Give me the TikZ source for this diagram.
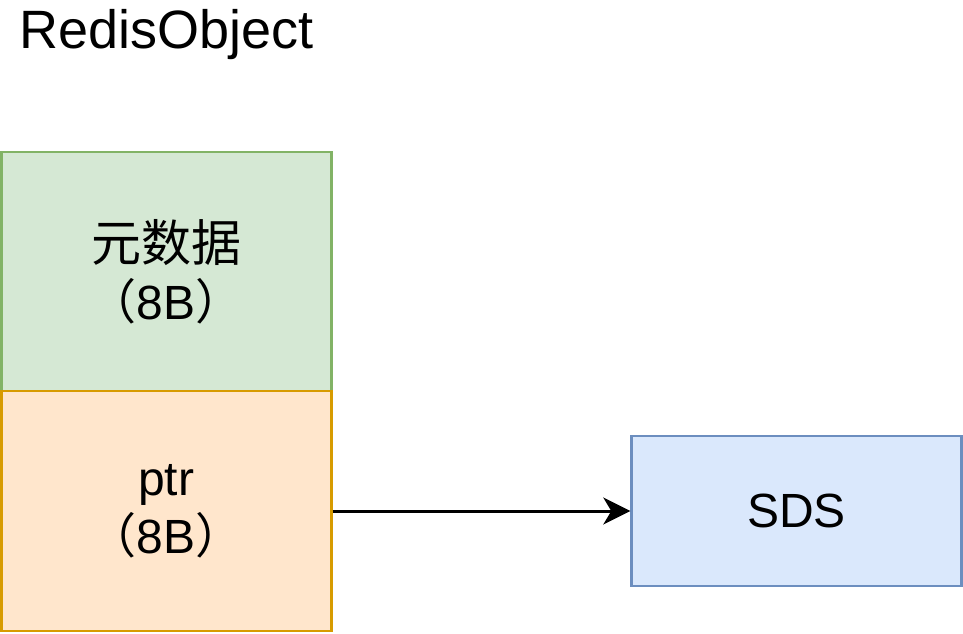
\documentclass[tikz,border=0pt]{standalone}
\usepackage{fontspec}
\setmainfont{Liberation Sans}
\newfontfamily\cjk{Noto Sans CJK SC}
\usetikzlibrary{arrows.meta}
\definecolor{gfill}{HTML}{D5E8D4}
\definecolor{gline}{HTML}{82B366}
\definecolor{ofill}{HTML}{FFE6CC}
\definecolor{oline}{HTML}{D79B00}
\definecolor{bfill}{HTML}{DAE8FC}
\definecolor{bline}{HTML}{6C8EBF}
\tikzset{
  box/.style={draw, line width=2.4pt, rectangle, inner sep=0pt, align=center,
    minimum width=330pt, font=\fontsize{48}{57.6}\selectfont},
  conn/.style={line width=3pt, -{Stealth[length=27pt,width=27pt,inset=8pt]}}
}
\begin{document}
\begin{tikzpicture}[x=1pt,y=-1pt]
\useasboundingbox (0,0) rectangle (963,633);
\node[anchor=base west, inner sep=0pt, font=\fontsize{54}{64}\selectfont] (title) at (19,48) {RedisObject};
\node[box, fill=gfill, draw=gline, minimum height=239pt] (meta) at (166.3,271.5) {{\cjk\fontsize{50}{57.6}\selectfont 元数据}\\{\cjk （}8B{\cjk ）}};
\node[box, fill=ofill, draw=oline, minimum height=240pt] (ptr) at (166.3,511) {ptr\\{\cjk （}8B{\cjk ）}};
\node[box, fill=bfill, draw=bline, minimum height=150pt] (sds) at (796.5,511) {SDS};
\draw[conn] (ptr.east) -- (sds.west);
\end{tikzpicture}
\end{document}
